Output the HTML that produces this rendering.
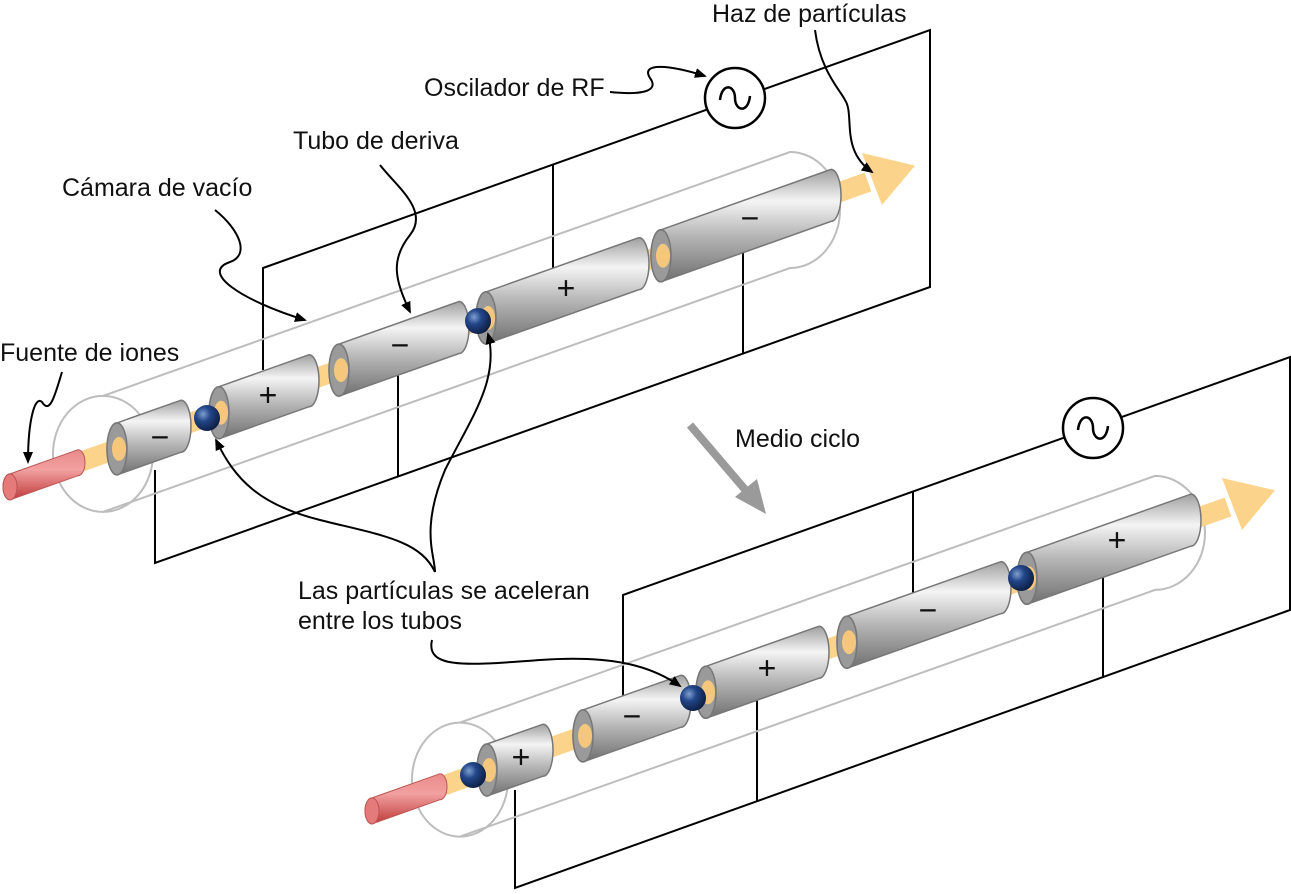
<!DOCTYPE html>
<html><head><meta charset="utf-8">
<style>
html,body{margin:0;padding:0;background:#fff;}
svg{display:block;}
text{font-family:"Liberation Sans",sans-serif;font-size:25px;fill:#111;}
.sg{font-size:32px;text-anchor:middle;}
.t{fill:url(#tg);stroke:#777;stroke-width:1.5;}
.c{fill:#9a9a9a;stroke:#777;stroke-width:1.5;}
.r{fill:url(#rg);stroke:#b55;stroke-width:1;}
.rc{fill:#e47a7a;stroke:#b55;stroke-width:1;}
.ch{fill:none;stroke:#bdbdbd;stroke-width:2;}
.f{stroke:#000;stroke-width:2;fill:none;}
.b{fill:url(#bg);}
.ld{fill:none;stroke:#000;stroke-width:2;}
.in{fill:#f4c77c;}
</style></head>
<body>
<svg width="1291" height="894" viewBox="0 0 1291 894" xmlns="http://www.w3.org/2000/svg">
<defs>
<linearGradient id="tg" x1="0" y1="0" x2="0" y2="1">
<stop offset="0" stop-color="#a0a0a0"/><stop offset="0.28" stop-color="#f4f4f4"/><stop offset="0.6" stop-color="#b4b4b4"/><stop offset="1" stop-color="#707070"/>
</linearGradient>
<linearGradient id="rg" x1="0" y1="0" x2="0" y2="1">
<stop offset="0" stop-color="#e98a8a"/><stop offset="0.4" stop-color="#f2a0a0"/><stop offset="1" stop-color="#c03a3a"/>
</linearGradient>
<radialGradient id="bg" cx="0.35" cy="0.35" r="0.7">
<stop offset="0" stop-color="#7f9fd0"/><stop offset="0.4" stop-color="#23468a"/><stop offset="1" stop-color="#0c1d40"/>
</radialGradient>
<marker id="ah" markerWidth="12" markerHeight="10" refX="10" refY="5" orient="auto" markerUnits="userSpaceOnUse">
<path d="M0,0 L12,5 L0,10 Z" fill="#000"/>
</marker>
</defs>

<!-- UPPER -->
<path class="f" d="M155,470 L155,563 L930,287 L930,30 L263,268 L263,370 M553,165 L553,268 M398,370 L398,477 M743,248 L743,354"/>
<ellipse class="ch" cx="103" cy="453.9" rx="50" ry="58"/>
<path class="ch" d="M103,395.9 L790,152 A50,58 0 0 1 790,268 L103,511.9"/>
<line x1="35" y1="478" x2="868" y2="182" stroke="#fcd38a" stroke-width="20"/>
<polygon points="915,165.6 882,205 862,153" fill="#fcd38a"/>
<path class="r" d="M10,473.9 L78,449.7 A7,13 0 0 1 78,475.7 L10,499.9 A7,13 0 0 1 10,473.9Z"/>
<ellipse class="rc" cx="10" cy="486.9" rx="7" ry="13"/>
<path class="t" d="M117,422.9 L181,400.2 A10,26 0 0 1 181,452.2 L117,474.9 A10,26 0 0 1 117,422.9Z"/><ellipse class="c" cx="117" cy="448.9" rx="10" ry="26"/><ellipse class="in" cx="119" cy="448.9" rx="7" ry="12"/>
<path class="t" d="M219,386.7 L309,354.7 A10,26 0 0 1 309,406.7 L219,438.7 A10,26 0 0 1 219,386.7Z"/><ellipse class="c" cx="219" cy="412.7" rx="10" ry="26"/><ellipse class="in" cx="221" cy="412.7" rx="7" ry="12"/>
<path class="t" d="M339,344.1 L459,301.5 A10,26 0 0 1 459,353.5 L339,396.1 A10,26 0 0 1 339,344.1Z"/><ellipse class="c" cx="339" cy="370.1" rx="10" ry="26"/><ellipse class="in" cx="341" cy="370.1" rx="7" ry="12"/>
<path class="t" d="M486,291.9 L639,237.6 A10,26 0 0 1 639,289.6 L486,343.9 A10,26 0 0 1 486,291.9Z"/><ellipse class="c" cx="486" cy="317.9" rx="10" ry="26"/><ellipse class="in" cx="488" cy="317.9" rx="7" ry="12"/>
<path class="t" d="M661,229.8 L831,169.4 A10,26 0 0 1 831,221.4 L661,281.8 A10,26 0 0 1 661,229.8Z"/><ellipse class="c" cx="661" cy="255.8" rx="10" ry="26"/><ellipse class="in" cx="663" cy="255.8" rx="7" ry="12"/>
<circle class="b" cx="207" cy="418" r="13"/>
<circle class="b" cx="478" cy="321" r="13"/>

<!-- LOWER -->
<path class="f" d="M515,790 L515,888 L1290,610 L1290,357 L623,595 L623,700 M757,700 L757,802 M913,492 L913,600 M1103,570 L1103,678"/>
<ellipse class="ch" cx="460" cy="779.6" rx="48" ry="57"/>
<path class="ch" d="M460,722.6 L1155,475.9 A50,57 0 0 1 1155,589.9 L460,836.6"/>
<line x1="397" y1="802" x2="1228" y2="507" stroke="#fcd38a" stroke-width="20"/>
<polygon points="1275,490.3 1242,530 1222,478" fill="#fcd38a"/>
<path class="r" d="M372,797.9 L440,773.7 A7,13 0 0 1 440,799.7 L372,823.9 A7,13 0 0 1 372,797.9Z"/>
<ellipse class="rc" cx="372" cy="810.9" rx="7" ry="13"/>
<path class="t" d="M487,744 L543,724.2 A10,26 0 0 1 543,776.2 L487,796 A10,26 0 0 1 487,744Z"/><ellipse class="c" cx="487" cy="770" rx="10" ry="26"/><ellipse class="in" cx="489" cy="770" rx="7" ry="12"/>
<path class="t" d="M583,709.9 L681,675.2 A10,26 0 0 1 681,727.2 L583,761.9 A10,26 0 0 1 583,709.9Z"/><ellipse class="c" cx="583" cy="735.9" rx="10" ry="26"/><ellipse class="in" cx="585" cy="735.9" rx="7" ry="12"/>
<path class="t" d="M706,666.3 L819,626.2 A10,26 0 0 1 819,678.2 L706,718.3 A10,26 0 0 1 706,666.3Z"/><ellipse class="c" cx="706" cy="692.3" rx="10" ry="26"/><ellipse class="in" cx="708" cy="692.3" rx="7" ry="12"/>
<path class="t" d="M847,616.2 L1001,561.6 A10,26 0 0 1 1001,613.6 L847,668.2 A10,26 0 0 1 847,616.2Z"/><ellipse class="c" cx="847" cy="642.2" rx="10" ry="26"/><ellipse class="in" cx="849" cy="642.2" rx="7" ry="12"/>
<path class="t" d="M1027,552.3 L1191,494.1 A10,26 0 0 1 1191,546.1 L1027,604.3 A10,26 0 0 1 1027,552.3Z"/><ellipse class="c" cx="1027" cy="578.3" rx="10" ry="26"/><ellipse class="in" cx="1029" cy="578.3" rx="7" ry="12"/>
<circle class="b" cx="473" cy="775" r="13"/>
<circle class="b" cx="693" cy="698" r="13"/>
<circle class="b" cx="1021" cy="578" r="13"/>

<!-- leaders -->
<path class="ld" d="M815,30 C820,70 840,90 845,100 C855,115 840,150 872,172" marker-end="url(#ah)"/>
<path class="ld" d="M610,92 C640,95 660,92 650,78 C640,62 670,65 705,76" marker-end="url(#ah)"/>
<path class="ld" d="M380,165 C395,185 430,210 410,235 C390,260 395,280 410,312" marker-end="url(#ah)"/>
<path class="ld" d="M215,210 C240,230 250,255 230,262 C200,272 240,300 305,320" marker-end="url(#ah)"/>
<path class="ld" d="M62,372 C55,395 50,415 42,402 C35,395 28,420 28,462" marker-end="url(#ah)"/>
<path class="ld" d="M435,572 C435,555 420,530 445,470 C470,420 500,380 488,334" marker-end="url(#ah)"/>
<path class="ld" d="M435,572 C420,540 380,535 320,520 C260,505 235,480 216,440" marker-end="url(#ah)"/>
<path class="ld" d="M432,640 C425,670 470,665 540,660 C610,655 650,665 680,686" marker-end="url(#ah)"/>
<line x1="690" y1="425" x2="748" y2="493" stroke="#9a9a9a" stroke-width="8"/>
<polygon points="766,514 735,497 757,479" fill="#9a9a9a"/>

<circle cx="735" cy="98" r="30" fill="#fff" stroke="#000" stroke-width="2.5"/>
<path d="M720,100 C722,82 735,85 735,98 C735,111 748,114 750,96" fill="none" stroke="#000" stroke-width="2.5"/>
<circle cx="1093" cy="428" r="30" fill="#fff" stroke="#000" stroke-width="2.5"/>
<path d="M1078,430 C1080,412 1093,415 1093,428 C1093,441 1106,444 1108,426" fill="none" stroke="#000" stroke-width="2.5"/>

<text x="712" y="22">Haz de partículas</text>
<text x="424" y="96">Oscilador de RF</text>
<text x="293" y="149">Tubo de deriva</text>
<text x="62" y="196">Cámara de vacío</text>
<text x="0" y="361">Fuente de iones</text>
<text x="735" y="447">Medio ciclo</text>
<text x="298" y="599">Las partículas se aceleran</text>
<text x="298" y="629">entre los tubos</text>
<text class="sg" x="160" y="448">−</text>
<text class="sg" x="268" y="406">+</text>
<text class="sg" x="400" y="356">−</text>
<text class="sg" x="566" y="299">+</text>
<text class="sg" x="750" y="229">−</text>
<text class="sg" x="521" y="768">+</text>
<text class="sg" x="632" y="727">−</text>
<text class="sg" x="767" y="679">+</text>
<text class="sg" x="928" y="621">−</text>
<text class="sg" x="1117" y="551">+</text>
</svg>
</body></html>
